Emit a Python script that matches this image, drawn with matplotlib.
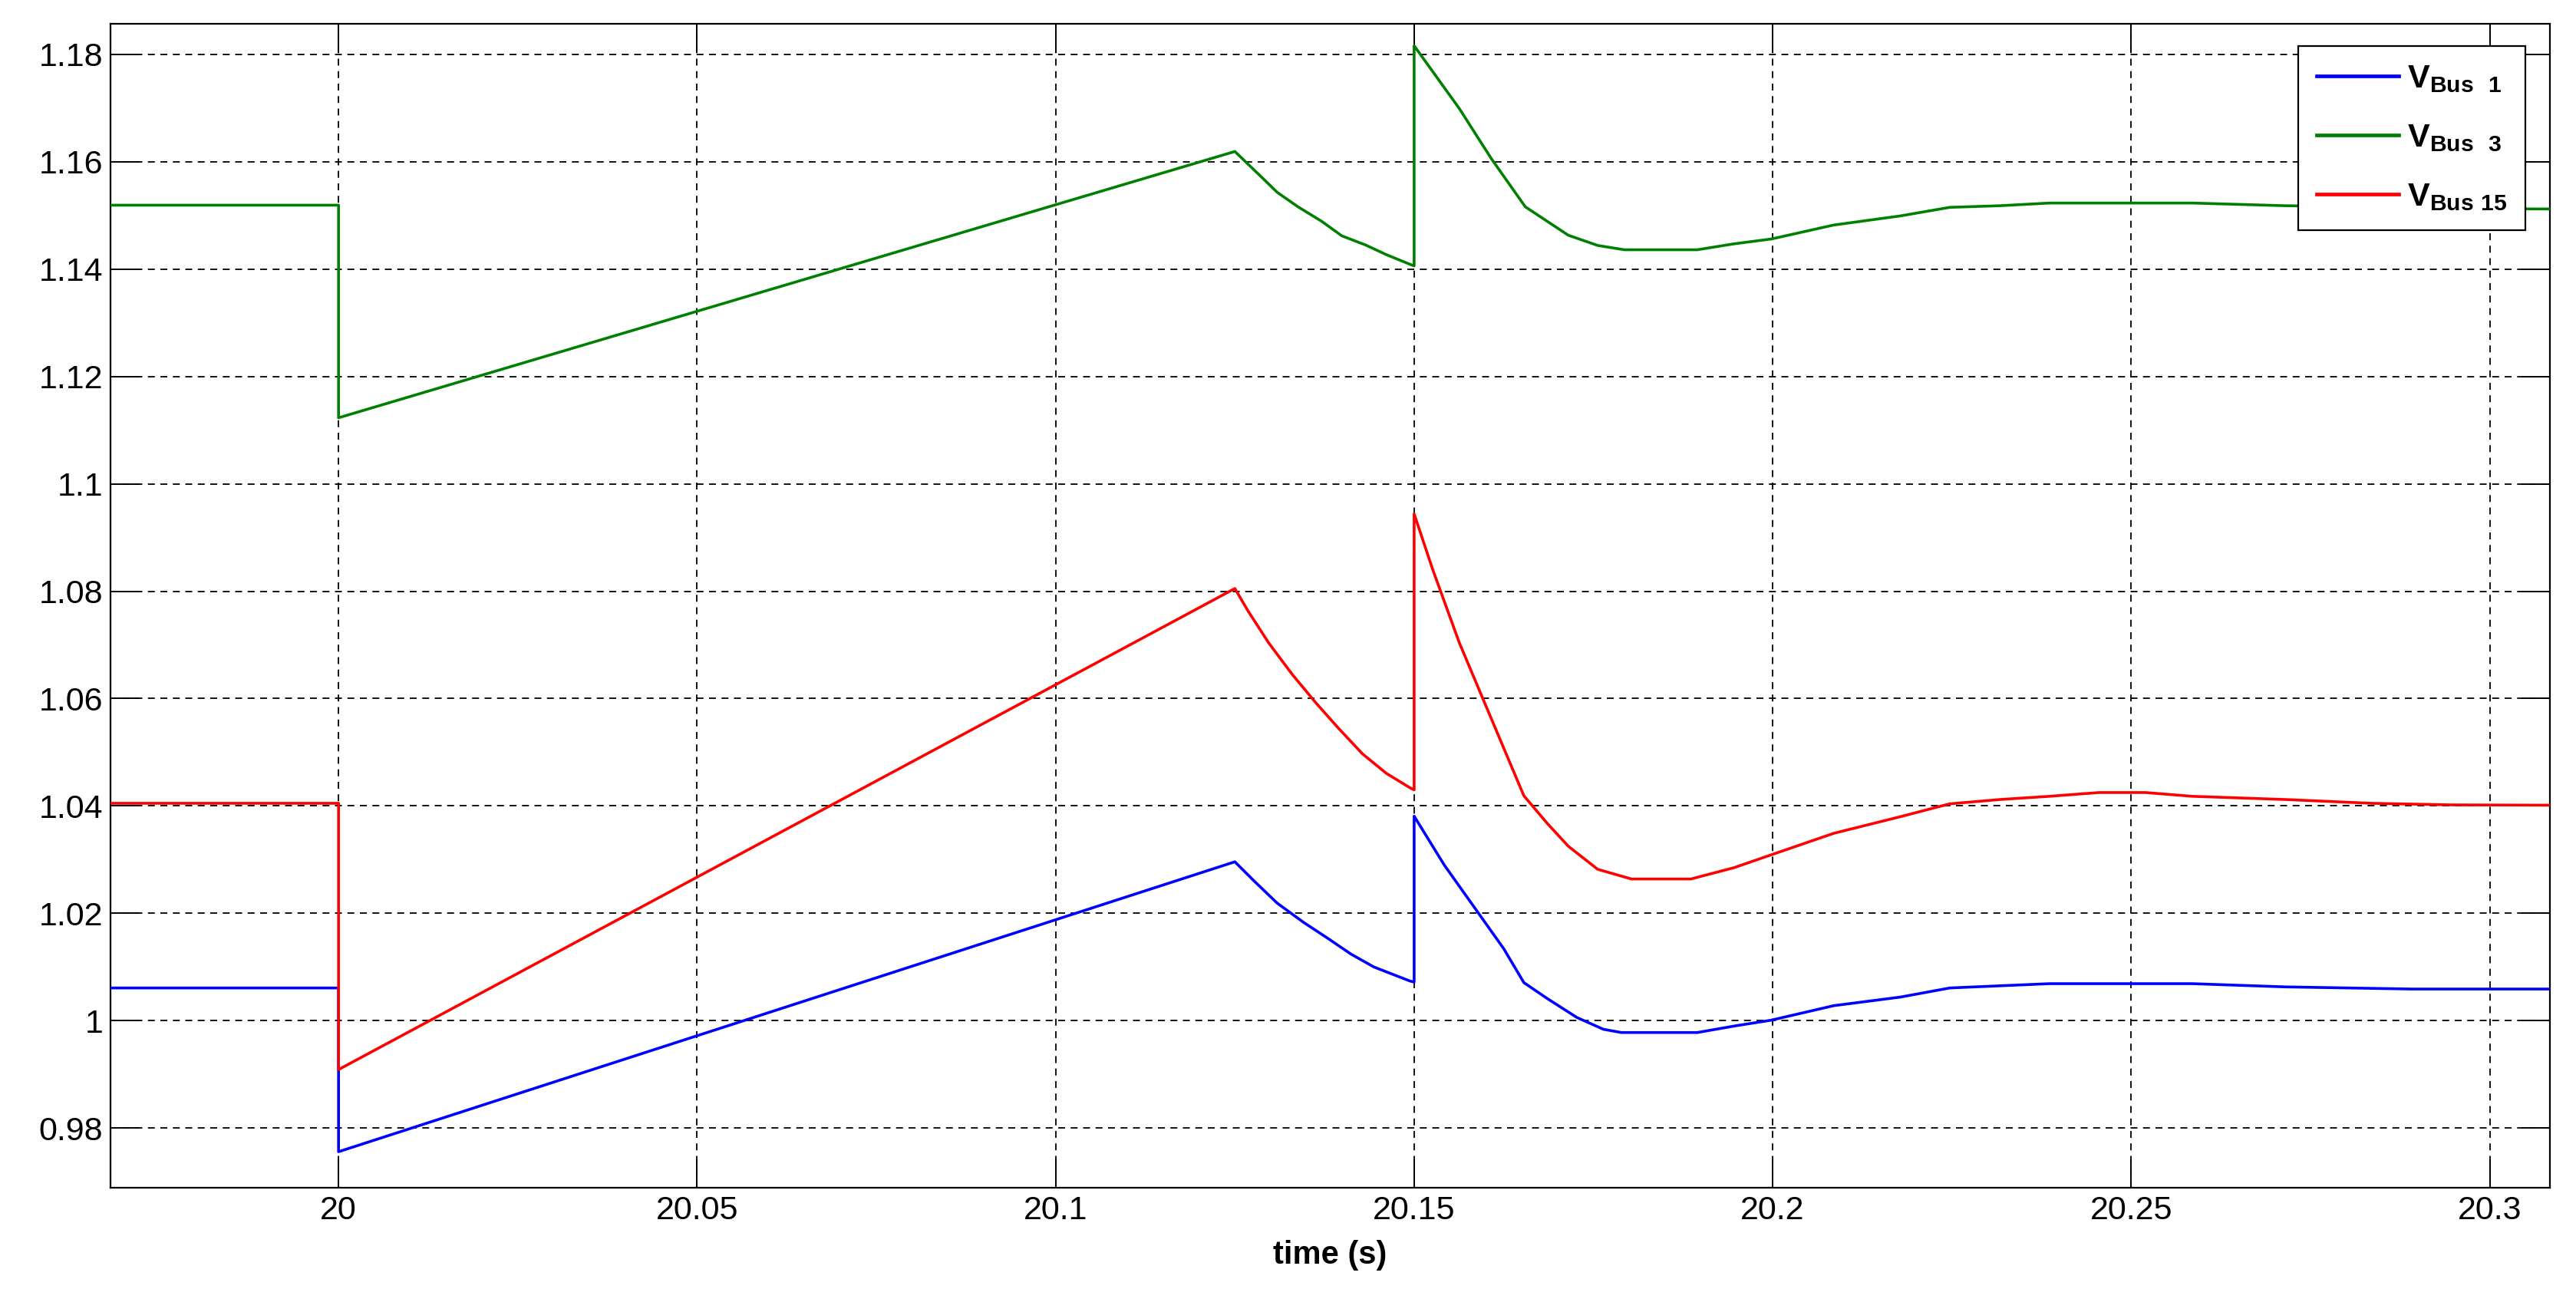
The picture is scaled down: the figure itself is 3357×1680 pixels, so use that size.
import matplotlib
matplotlib.use("Agg")
import matplotlib.pyplot as plt
from matplotlib.ticker import FuncFormatter

plt.rcParams["font.family"] = ["Liberation Sans", "DejaVu Sans"]
plt.rcParams["mathtext.fontset"] = "custom"
plt.rcParams["mathtext.rm"] = "Liberation Sans"
plt.rcParams["mathtext.bf"] = "Liberation Sans:bold"

# values (time in s, voltage in pu)
t_bus1 = [19.96, 20.0, 20.0, 20.125, 20.1277, 20.1309, 20.1346, 20.1379, 20.1412,
          20.1444, 20.1494, 20.15, 20.15, 20.1542, 20.1584, 20.1625, 20.1653, 20.1686,
          20.1727, 20.1764, 20.1789, 20.1895, 20.1946, 20.1998, 20.2085, 20.2178,
          20.2247, 20.2386, 20.2585, 20.2715, 20.2891, 20.32]
v_bus1 = [1.0061, 1.0061, 0.9756, 1.0296, 1.0260, 1.0219, 1.0183, 1.0154, 1.0124,
          1.0100, 1.0074, 1.0072, 1.0381, 1.0290, 1.0211, 1.0134, 1.0071, 1.0041,
          1.0006, 0.9984, 0.9978, 0.9978, 0.9990, 1.0001, 1.0028, 1.0044,
          1.0061, 1.0069, 1.0069, 1.0063, 1.0059, 1.0059]

t_bus3 = [19.96, 20.0, 20.0, 20.125, 20.1289, 20.1309, 20.1338, 20.1371, 20.1399,
          20.1432, 20.1461, 20.1494, 20.15, 20.15, 20.1563, 20.1608, 20.1655, 20.1715,
          20.1756, 20.1793, 20.1895, 20.1946, 20.1998, 20.2085, 20.2178, 20.2247,
          20.2317, 20.2386, 20.2585, 20.2715, 20.3057, 20.32]
v_bus3 = [1.1519, 1.1519, 1.1123, 1.1619, 1.1569, 1.1543, 1.1516, 1.1489, 1.1462,
          1.1445, 1.1427, 1.1409, 1.1406, 1.1816, 1.1699, 1.1605, 1.1516, 1.1463,
          1.1444, 1.1436, 1.1436, 1.1447, 1.1456, 1.1482, 1.1499, 1.1515,
          1.1518, 1.1523, 1.1523, 1.1518, 1.1512, 1.1512]

t_bus15 = [19.96, 20.0, 20.0, 20.125, 20.1268, 20.1297, 20.1330, 20.1363, 20.1395,
           20.1428, 20.1461, 20.1494, 20.15, 20.15, 20.1526, 20.1563, 20.1604, 20.1653,
           20.1686, 20.1715, 20.1756, 20.1803, 20.1886, 20.1946, 20.1998, 20.2085,
           20.2178, 20.2247, 20.2317, 20.2386, 20.2455, 20.2520, 20.2585, 20.2715,
           20.2835, 20.2946, 20.32]
v_bus15 = [1.0405, 1.0405, 0.9909, 1.0805, 1.0764, 1.0704, 1.0645, 1.0592, 1.0544,
           1.0497, 1.0461, 1.0434, 1.0430, 1.0944, 1.0840, 1.0704, 1.0574, 1.0419,
           1.0367, 1.0325, 1.0282, 1.0264, 1.0264, 1.0285, 1.0309, 1.0349,
           1.0380, 1.0404, 1.0412, 1.0418, 1.0425, 1.0425, 1.0418, 1.0412,
           1.0405, 1.0402, 1.0401]

labels = [r"$\mathbf{V}_{\mathbf{Bus\ \ 1}}$", r"$\mathbf{V}_{\mathbf{Bus\ \ 3}}$",
          r"$\mathbf{V}_{\mathbf{Bus\ 15}}$"]
colors = ["#0000FF", "#008000", "#FF0000"]

xticks = [20, 20.05, 20.1, 20.15, 20.2, 20.25, 20.3]
yticks = [0.98, 1.0, 1.02, 1.04, 1.06, 1.08, 1.1, 1.12, 1.14, 1.16, 1.18]

fig = plt.figure(figsize=(33.57, 16.8), dpi=100)
ax = fig.add_axes([0.0429, 0.0786, 0.9470, 0.9030])

for tt, vv, c, lab in zip([t_bus1, t_bus3, t_bus15], [v_bus1, v_bus3, v_bus15], colors, labels):
    ax.plot(tt, vv, color=c, lw=2.6, label=lab, zorder=3)

ax.set_xlim(19.9682, 20.3084)
ax.set_ylim(0.9689, 1.1857)
ax.set_xticks(xticks)
ax.set_yticks(yticks)
fmt = FuncFormatter(lambda v, p: "%g" % round(v, 4))
ax.xaxis.set_major_formatter(fmt)
ax.yaxis.set_major_formatter(fmt)

ax.grid(True, color="k", linestyle=(0, (5, 4)), linewidth=1.3)
ax.tick_params(direction="in", length=27, width=1.4, top=True, right=True,
               labelsize=31, colors="k", pad=7)
for s in ax.spines.values():
    s.set_linewidth(1.6)
    s.set_color("k")

ax.set_xlabel("time (s)", fontsize=30, fontweight="bold", labelpad=13)

leg = ax.legend(loc="upper right", bbox_to_anchor=(0.990, 0.981), borderaxespad=0,
                fontsize=31, handlelength=2.5, handletextpad=0.25, borderpad=0.55,
                labelspacing=0.85, fancybox=False, framealpha=1, edgecolor="k")
leg.get_frame().set_linewidth(1.6)
for ln in leg.get_lines():
    ln.set_linewidth(3.4)

fig.savefig("out.png", dpi=100, facecolor="white")
